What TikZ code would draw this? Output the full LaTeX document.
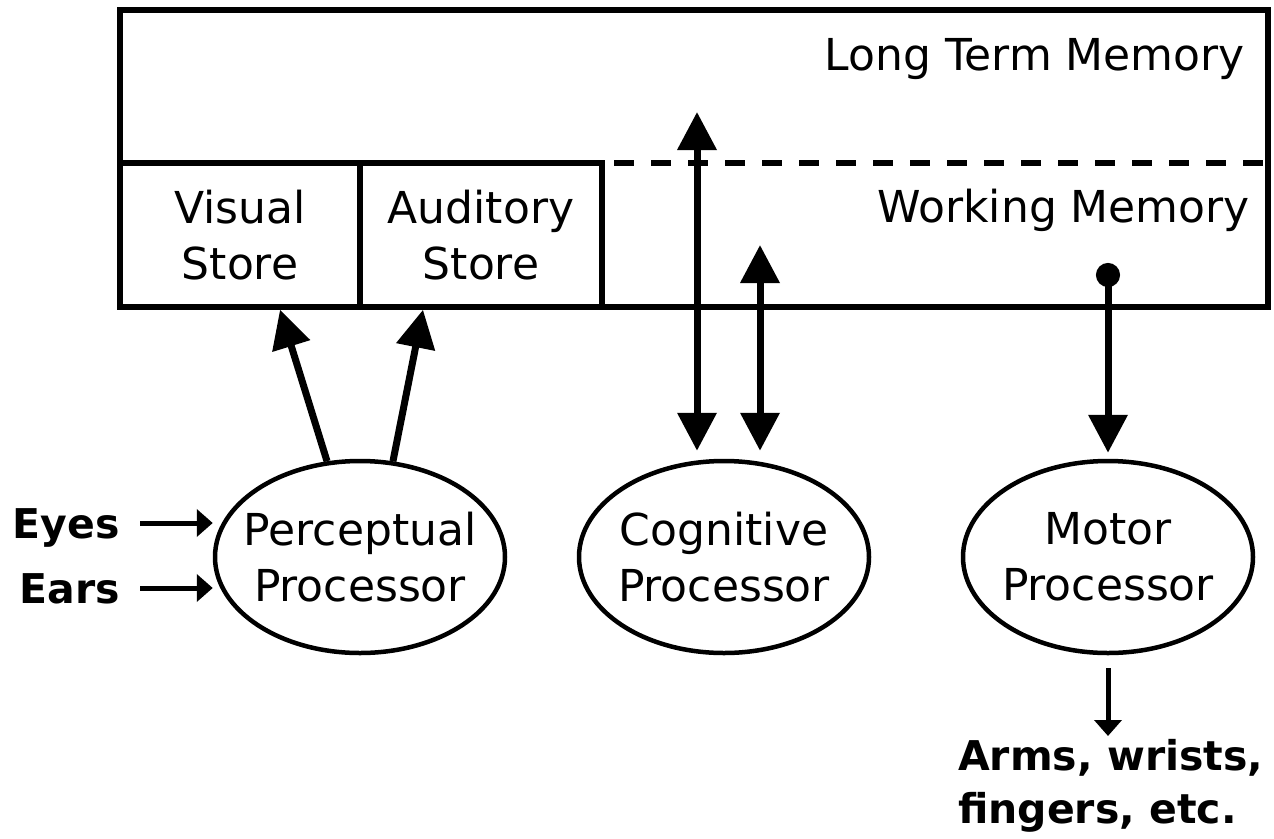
\documentclass[tikz,border=0pt]{standalone}
\usepackage{fontspec}
\setmainfont{DejaVu Sans}
\usetikzlibrary{arrows.meta,shapes.geometric}

\begin{document}
\begin{tikzpicture}[x=1pt,y=-1pt,
  lbl/.style={font=\fontsize{44pt}{56pt}\selectfont, align=center},
  boldlbl/.style={font=\fontsize{41pt}{53pt}\selectfont\bfseries},
  store/.style={draw, line width=5.5pt, minimum width=240pt, minimum height=144pt, inner sep=0pt, lbl},
  proc/.style={ellipse, draw, line width=4.5pt, minimum width=290pt, minimum height=192pt,
               inner xsep=-20pt, inner ysep=0pt, lbl},
  bigarrow/.style={line width=7pt, -{Triangle[length=38pt,width=38pt]}},
  dblarrow/.style={line width=7pt, {Triangle[length=38pt,width=38pt]}-{Triangle[length=38pt,width=38pt]}},
  dotarrow/.style={line width=7pt, {Circle[length=24pt]}-{Triangle[length=38pt,width=38pt]}},
  smallarrow/.style={line width=5pt, -{Triangle[length=16pt,width=27pt]}},
  sense/.style={boldlbl, anchor=east, inner sep=0pt, text height=30pt, text depth=0pt},
]
\useasboundingbox (0,0) rectangle (1274,838);

% memory block: long term memory above, working memory below
\node[draw, line width=5.5pt, minimum width=1148pt, minimum height=297pt,
      inner sep=0pt, outer sep=0pt] (mem) at (694,158.5) {};
\node[store] (vis) at (240,235) {Visual\\Store};
\node[store, minimum width=242pt] (aud) at (481,235) {Auditory\\Store};
\coordinate (split) at (602,163);
\draw[line width=5.5pt, dash pattern=on 20pt off 17pt]
  ([xshift=12pt]split) -- (split -| mem.east);

\node[lbl, anchor=base east, inner sep=0pt] (ltm) at (1245,70) {Long Term Memory};
\node[lbl, anchor=base east, inner sep=0pt] (wm) at (1250,222) {Working Memory};

% processors
\node[proc] (per) at (360,557) {Perceptual\\Processor};
\node[proc] (cog) at (724,557) {Cognitive\\Processor};
\node[proc] (mot) at (1108,557) {Motor\\Processor};

% perceptual processor feeds the sensory stores
\draw[bigarrow] (per.109) -- ([xshift=40pt]vis.south);
\draw[bigarrow] (per.71) -- ([xshift=-58pt]aud.south);

% cognitive processor exchanges with both memories
\coordinate (ltmtip) at (697,112);
\coordinate (wmtip) at (760,245);
\draw[dblarrow, shorten <=8pt] (cog.north -| ltmtip) -- (ltmtip);
\draw[dblarrow, shorten <=8pt] (cog.north -| wmtip) -- (wmtip);

% working memory drives the motor processor
\coordinate (wmdot) at (1108,263);
\draw[dotarrow, shorten >=6pt] (wmdot) -- (mot.north);

% inputs and outputs
\node[sense] (eyes) at (120,523) {Eyes};
\node[sense] (ears) at (120,588) {Ears};
\draw[smallarrow, shorten <=20pt] (eyes.east) -- (eyes.east -| per.west);
\draw[smallarrow, shorten <=20pt] (ears.east) -- (ears.east -| per.west);

\node[boldlbl, align=left, anchor=north west, inner sep=0pt] (arms) at (958,739)
  {Arms, wrists,\\fingers, etc.};
\draw[smallarrow, shorten <=13pt, shorten >=3pt] (mot.south) -- (mot.south |- arms.north);
\end{tikzpicture}
\end{document}
